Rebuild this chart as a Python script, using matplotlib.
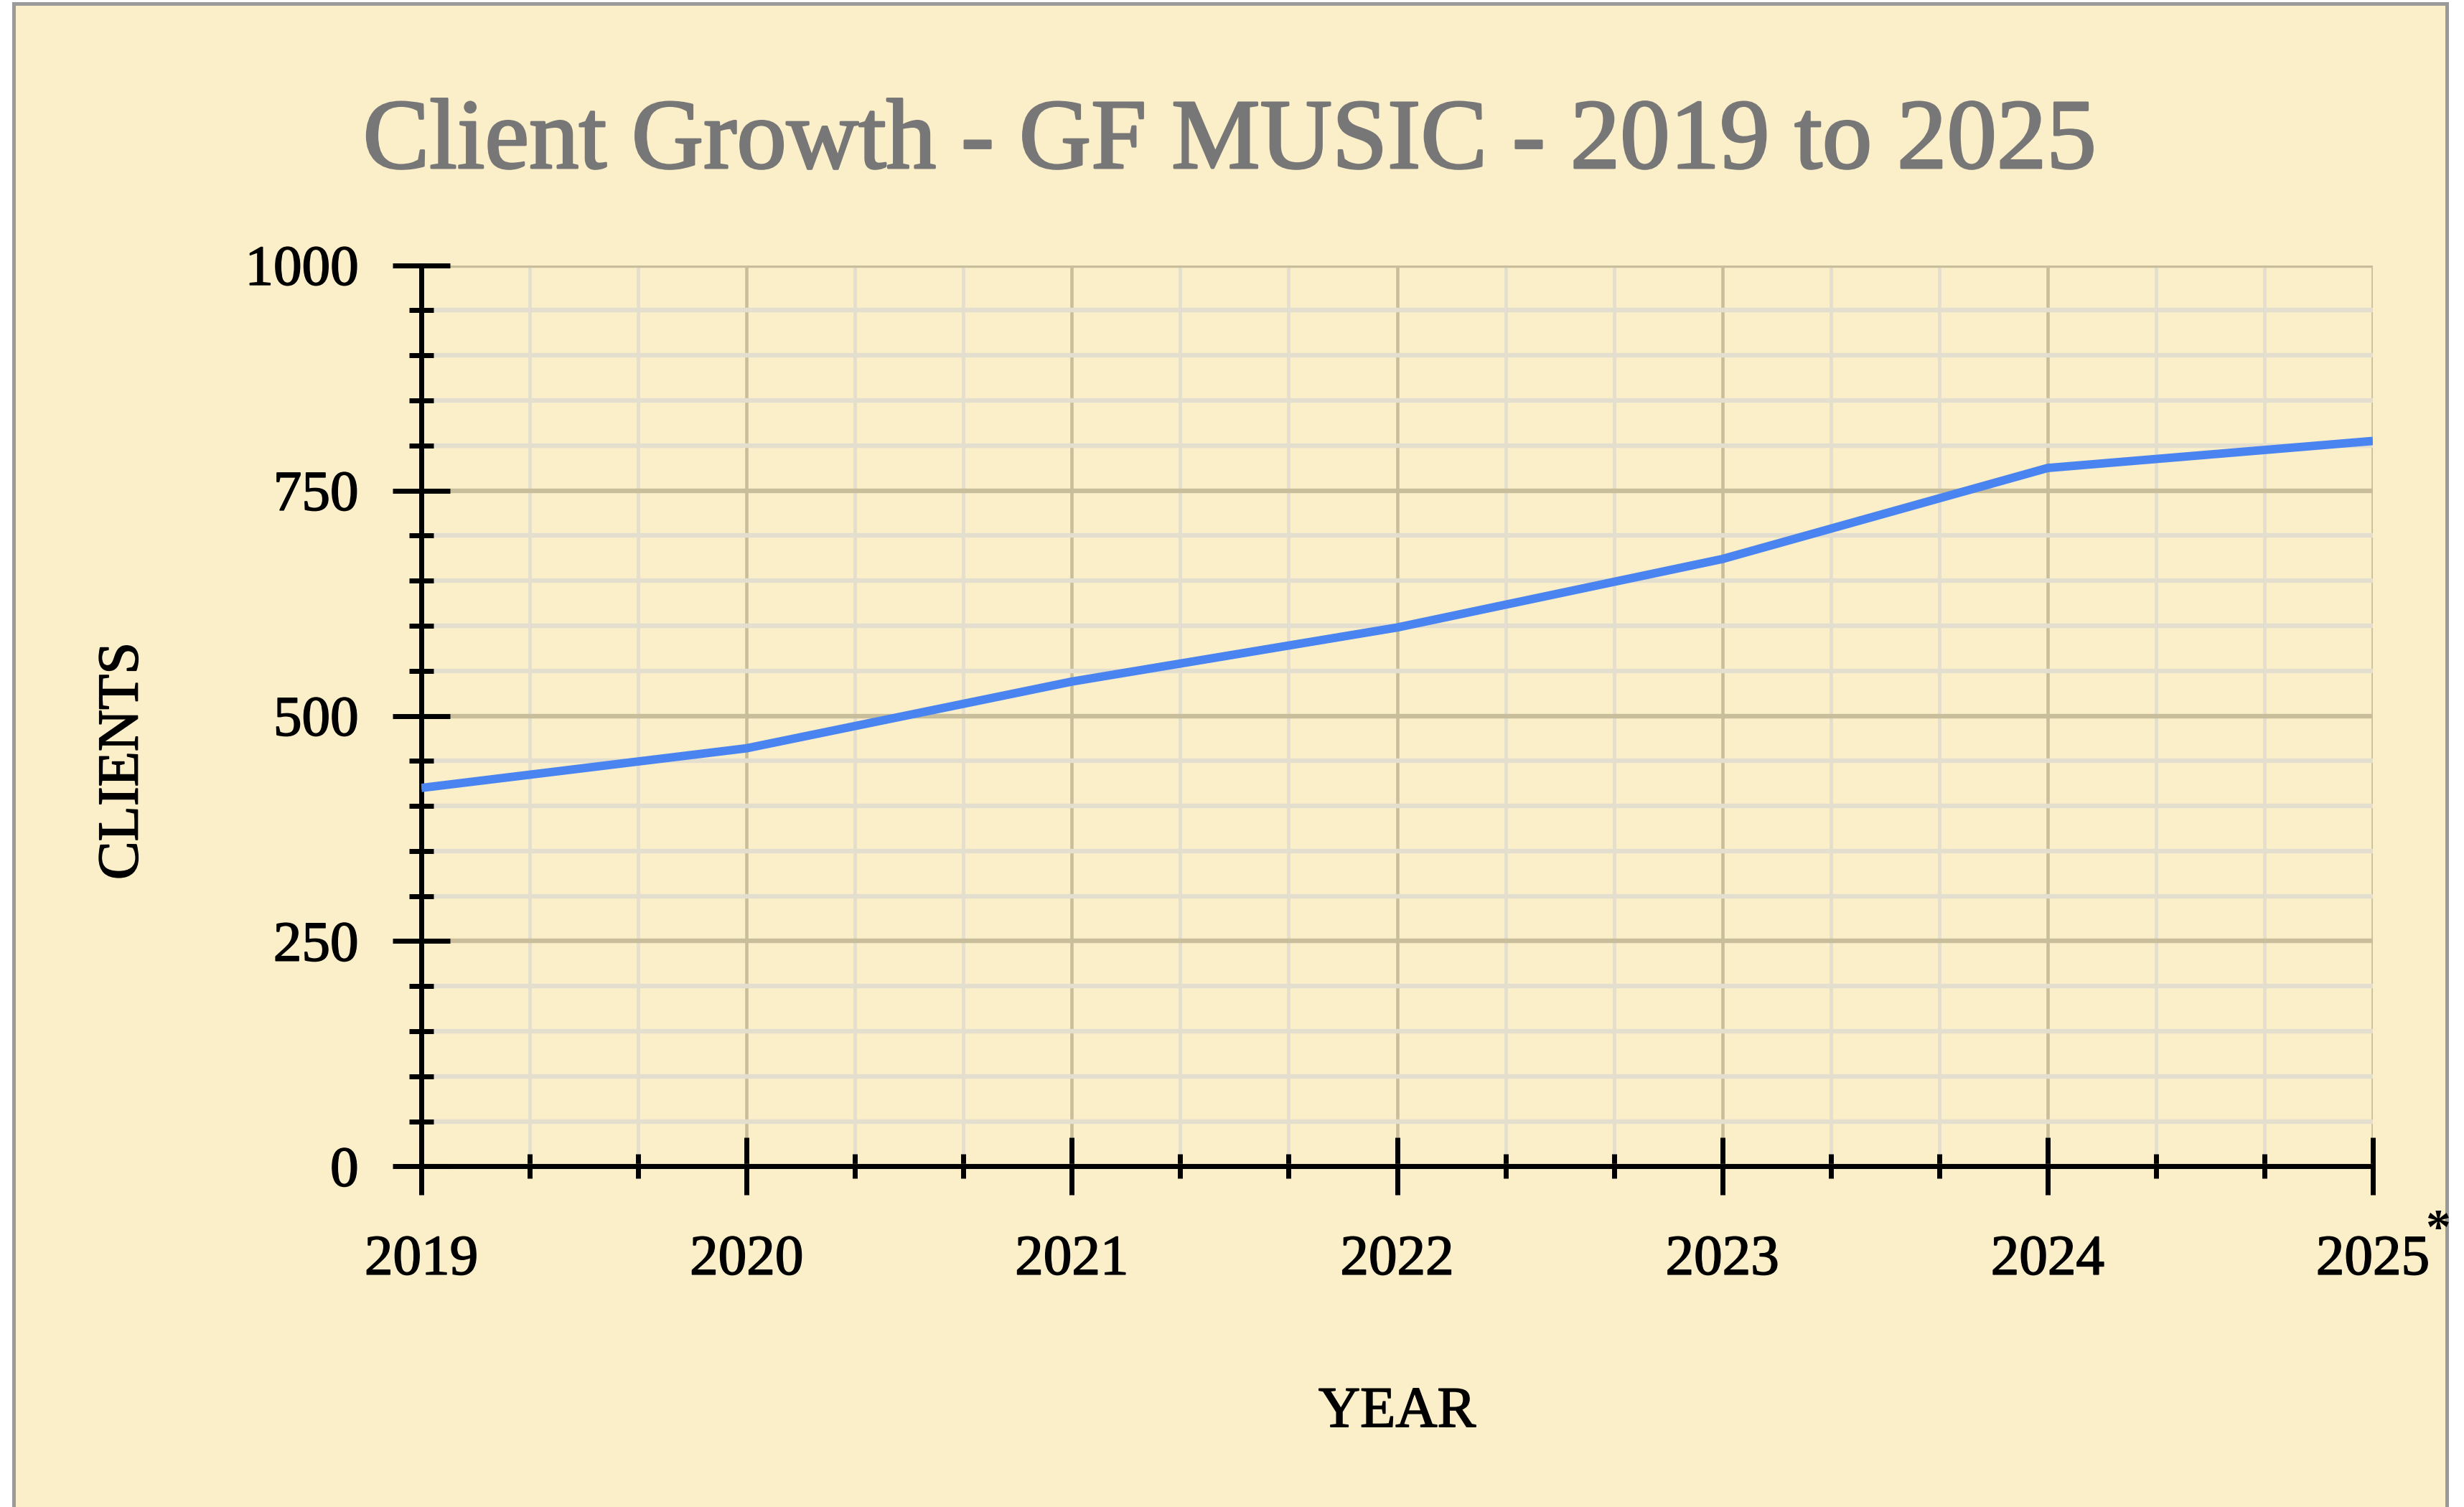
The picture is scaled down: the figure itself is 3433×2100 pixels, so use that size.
import matplotlib.pyplot as plt
import matplotlib.patheffects as pe
from matplotlib.ticker import MultipleLocator
from matplotlib.patches import Rectangle

# ------------------------------------------------------
# Data
years = [2019, 2020, 2021, 2022, 2023, 2024, 2025]
clients = [420, 464, 538, 598, 674, 775, 805]
year_labels = ['2019', '2020', '2021', '2022', '2023', '2024', '2025']
client_ticks = [0, 250, 500, 750, 1000]
# ------------------------------------------------------

plt.rcParams['font.family'] = ['Liberation Serif', 'DejaVu Serif']

bg = '#fbefca'
major_grid = '#c8be9b'
minor_grid = '#e3decd'

# a thin outline of the same colour makes the serif text a bit heavier
heavy = [pe.withStroke(linewidth=1.2, foreground='black')]
heavy_title = [pe.withStroke(linewidth=2.2, foreground='#777777')]

fig = plt.figure(figsize=(34.33, 21), dpi=100, facecolor='white')

# yellow card with a grey frame (bottom edge runs off the picture)
card = Rectangle((0.0055, -0.02), 0.9875, 1.0175, transform=fig.transFigure,
                 facecolor=bg, edgecolor='#9a9a9a', linewidth=3.6, zorder=-10)
fig.patches.append(card)

ax = fig.add_axes([0.171, 0.226, 0.792, 0.598])
ax.set_facecolor(bg)
ax.set_axisbelow(True)

ax.plot(years, clients, color='#4a84f0', linewidth=8.5, solid_capstyle='butt',
        solid_joinstyle='miter', zorder=3)

ax.set_xlim(2019, 2025)
ax.set_ylim(0, 1000)
ax.set_xticks(years)
ax.set_xticklabels(year_labels)
ax.set_yticks(client_ticks)
ax.xaxis.set_minor_locator(MultipleLocator(1 / 3))
ax.yaxis.set_minor_locator(MultipleLocator(50))

# grid: tan for majors, pale for minors
ax.grid(axis='y', which='major', color=major_grid, linewidth=4.6)
ax.grid(axis='y', which='minor', color=minor_grid, linewidth=4.6)
ax.grid(axis='x', which='major', color=major_grid, linewidth=3.3)
ax.grid(axis='x', which='minor', color=minor_grid, linewidth=3.3)

for side in ['top', 'right']:
    ax.spines[side].set_visible(False)
for side in ['left', 'bottom']:
    ax.spines[side].set_linewidth(5)
    ax.spines[side].set_color('black')

ax.tick_params(axis='both', which='major', direction='inout', length=58,
               width=5, labelsize=57, colors='black')
ax.tick_params(axis='both', which='minor', direction='inout', length=25,
               width=5)
ax.tick_params(axis='y', which='major', pad=34)
ax.tick_params(axis='x', which='major', pad=40)
for lab in ax.get_xticklabels() + ax.get_yticklabels():
    lab.set_path_effects(heavy)

# asterisk next to the last year label
ax.annotate('*', xy=(2025, 0), xycoords='data', xytext=(65, -42),
            textcoords='offset points', ha='center', va='top', fontsize=50,
            fontweight='bold', color='black')

fig.text(0.499, 0.8886, 'Client Growth - GF MUSIC - 2019 to 2025',
         ha='center', va='baseline', fontsize=100, color='#777777',
         path_effects=heavy_title)
fig.text(0.567, 0.0533, 'YEAR', ha='center', va='baseline', fontsize=58,
         color='black', path_effects=heavy)
fig.text(0.0501, 0.495, 'CLIENTS', ha='center', va='center', rotation=90,
         fontsize=58, color='black', path_effects=heavy)

fig.savefig('out.png', dpi=100, facecolor='white')
